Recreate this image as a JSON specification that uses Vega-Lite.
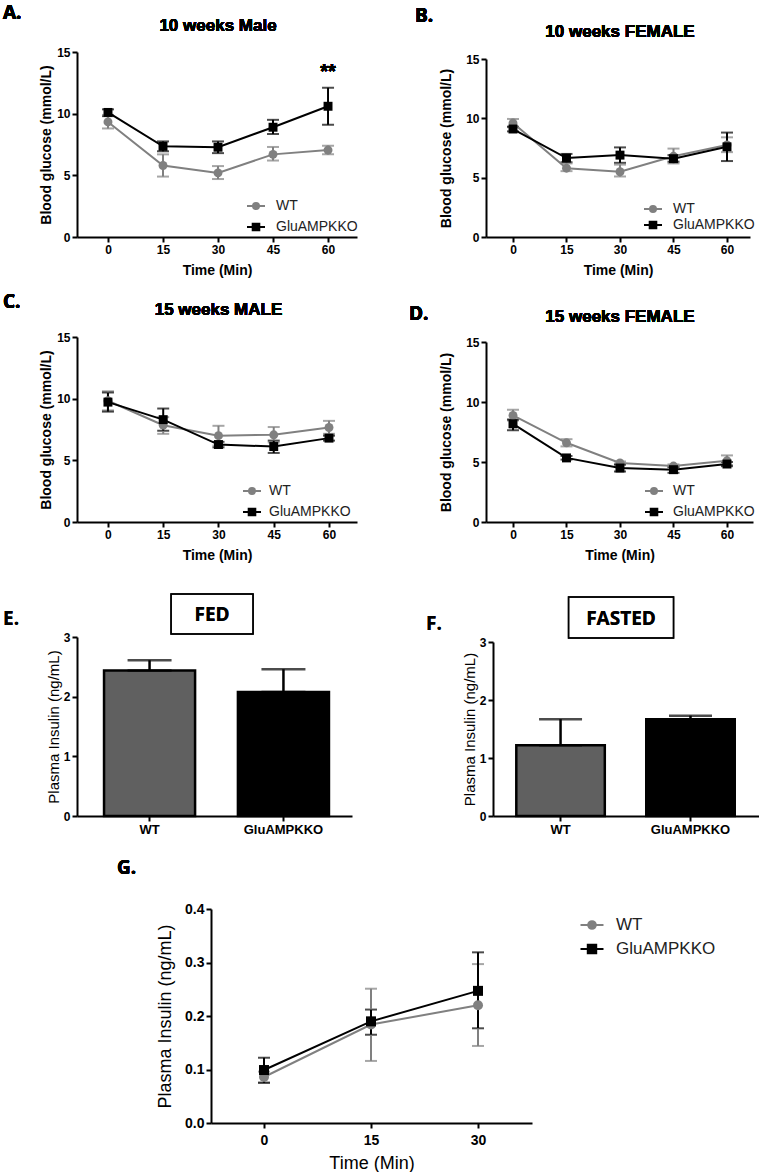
{
  "$schema": "https://vega.github.io/schema/vega-lite/v6.json",
  "background": "white",
  "padding": {"left": 3, "top": 4, "right": 0, "bottom": 0},
  "columns": 2,
  "align": "none",
  "bounds": "flush",
  "spacing": {"row": 90, "column": 129},
  "resolve": {
    "scale": {"color": "independent", "shape": "independent", "fill": "independent", "stroke": "independent", "x": "independent", "y": "independent"},
    "legend": {"color": "independent", "shape": "independent", "fill": "independent", "stroke": "independent"},
    "axis": {"x": "independent", "y": "independent"}
  },
  "datasets": {
    "A": [
      {"t": 0, "g": "WT", "m": 9.33, "lo": 8.8, "hi": 9.9},
      {"t": 15, "g": "WT", "m": 5.8, "lo": 4.9, "hi": 6.7},
      {"t": 30, "g": "WT", "m": 5.2, "lo": 4.7, "hi": 5.75},
      {"t": 45, "g": "WT", "m": 6.7, "lo": 6.2, "hi": 7.3},
      {"t": 60, "g": "WT", "m": 7.05, "lo": 6.7, "hi": 7.4},
      {"t": 0, "g": "GluAMPKKO", "m": 10.1, "lo": 9.8, "hi": 10.35},
      {"t": 15, "g": "GluAMPKKO", "m": 7.35, "lo": 6.95, "hi": 7.75},
      {"t": 30, "g": "GluAMPKKO", "m": 7.28, "lo": 6.8, "hi": 7.75},
      {"t": 45, "g": "GluAMPKKO", "m": 8.9, "lo": 8.35, "hi": 9.5},
      {"t": 60, "g": "GluAMPKKO", "m": 10.6, "lo": 9.1, "hi": 12.1}
    ],
    "B": [
      {"t": 0, "g": "WT", "m": 9.6, "lo": 9.25, "hi": 9.95},
      {"t": 15, "g": "WT", "m": 5.8, "lo": 5.55, "hi": 6.2},
      {"t": 30, "g": "WT", "m": 5.5, "lo": 5.1, "hi": 6.1},
      {"t": 45, "g": "WT", "m": 6.8, "lo": 6.2, "hi": 7.45},
      {"t": 60, "g": "WT", "m": 7.75, "lo": 7.15, "hi": 8.4},
      {"t": 0, "g": "GluAMPKKO", "m": 9.1, "lo": 8.9, "hi": 9.3},
      {"t": 15, "g": "GluAMPKKO", "m": 6.65, "lo": 6.3, "hi": 7.0},
      {"t": 30, "g": "GluAMPKKO", "m": 6.9, "lo": 6.25, "hi": 7.55},
      {"t": 45, "g": "GluAMPKKO", "m": 6.6, "lo": 6.35, "hi": 6.9},
      {"t": 60, "g": "GluAMPKKO", "m": 7.6, "lo": 6.4, "hi": 8.8}
    ],
    "C": [
      {"t": 0, "g": "WT", "m": 9.83, "lo": 9.05, "hi": 10.6},
      {"t": 15, "g": "WT", "m": 7.85, "lo": 7.15, "hi": 8.5},
      {"t": 30, "g": "WT", "m": 7.0, "lo": 6.2, "hi": 7.8},
      {"t": 45, "g": "WT", "m": 7.07, "lo": 6.45, "hi": 7.7},
      {"t": 60, "g": "WT", "m": 7.66, "lo": 7.15, "hi": 8.2},
      {"t": 0, "g": "GluAMPKKO", "m": 9.72, "lo": 8.95, "hi": 10.5},
      {"t": 15, "g": "GluAMPKKO", "m": 8.3, "lo": 7.4, "hi": 9.2},
      {"t": 30, "g": "GluAMPKKO", "m": 6.28, "lo": 6.05, "hi": 6.5},
      {"t": 45, "g": "GluAMPKKO", "m": 6.12, "lo": 5.6, "hi": 6.6},
      {"t": 60, "g": "GluAMPKKO", "m": 6.8, "lo": 6.6, "hi": 7.0}
    ],
    "D": [
      {"t": 0, "g": "WT", "m": 8.88, "lo": 8.45, "hi": 9.35},
      {"t": 15, "g": "WT", "m": 6.6, "lo": 6.3, "hi": 6.9},
      {"t": 30, "g": "WT", "m": 4.92, "lo": 4.8, "hi": 5.05},
      {"t": 45, "g": "WT", "m": 4.66, "lo": 4.55, "hi": 4.8},
      {"t": 60, "g": "WT", "m": 5.1, "lo": 4.75, "hi": 5.55},
      {"t": 0, "g": "GluAMPKKO", "m": 8.18, "lo": 7.65, "hi": 8.55},
      {"t": 15, "g": "GluAMPKKO", "m": 5.34, "lo": 5.2, "hi": 5.5},
      {"t": 30, "g": "GluAMPKKO", "m": 4.5, "lo": 4.2, "hi": 4.8},
      {"t": 45, "g": "GluAMPKKO", "m": 4.36, "lo": 4.1, "hi": 4.6},
      {"t": 60, "g": "GluAMPKKO", "m": 4.83, "lo": 4.65, "hi": 5.0}
    ],
    "E": [
      {"g": "WT", "m": 2.44, "hi": 2.61},
      {"g": "GluAMPKKO", "m": 2.08, "hi": 2.46}
    ],
    "F": [
      {"g": "WT", "m": 1.22, "hi": 1.67},
      {"g": "GluAMPKKO", "m": 1.67, "hi": 1.73}
    ],
    "G": [
      {"t": 0, "g": "WT", "m": 0.086, "lo": 0.076, "hi": 0.096},
      {"t": 15, "g": "WT", "m": 0.184, "lo": 0.116, "hi": 0.251},
      {"t": 30, "g": "WT", "m": 0.22, "lo": 0.144, "hi": 0.297},
      {"t": 0, "g": "GluAMPKKO", "m": 0.099, "lo": 0.075, "hi": 0.122},
      {"t": 15, "g": "GluAMPKKO", "m": 0.19, "lo": 0.165, "hi": 0.212},
      {"t": 30, "g": "GluAMPKKO", "m": 0.247, "lo": 0.177, "hi": 0.319}
    ]
  },
  "concat": [
    {
      "width": 280, "height": 185,
      "data": {"name": "A"},
      "layer": [
        {"mark": {"type": "errorbar", "ticks": {"size": 12}, "thickness": 2},
         "encoding": {
           "x": {"field": "t", "type": "quantitative", "title": "Time (Min)", "scale": {"domain": [-8.45, 67.9], "nice": false, "zero": false}, "axis": {"values": [0, 15, 30, 45, 60]}},
           "y": {"field": "lo", "type": "quantitative", "title": "Blood glucose (mmol/L)", "scale": {"domain": [0, 15], "nice": false}, "axis": {"values": [0, 5, 10, 15], "titlePadding": 3}},
           "y2": {"field": "hi"},
           "color": {"field": "g", "type": "nominal", "scale": {"domain": ["GluAMPKKO", "WT"], "range": ["#000000", "#808080"]}, "legend": null}
         }},
        {"mark": {"type": "line", "strokeWidth": 2},
         "encoding": {
           "x": {"field": "t", "type": "quantitative", "title": "Time (Min)"},
           "y": {"field": "m", "type": "quantitative", "title": "Blood glucose (mmol/L)"},
           "color": {"field": "g", "type": "nominal", "legend": null}
         }},
        {"mark": {"type": "point", "filled": true, "size": 80, "opacity": 1},
         "encoding": {
           "x": {"field": "t", "type": "quantitative", "title": "Time (Min)"},
           "y": {"field": "m", "type": "quantitative", "title": "Blood glucose (mmol/L)"},
           "shape": {"condition": {"test": "datum.g === 'WT'", "value": "circle"}, "value": "square"},
           "color": {"field": "g", "type": "nominal", "legend": null}
         }},
        {"mark": {"type": "point", "filled": true, "size": 80, "opacity": 0},
         "encoding": {
           "x": {"field": "t", "type": "quantitative", "title": "Time (Min)"},
           "y": {"field": "m", "type": "quantitative", "title": "Blood glucose (mmol/L)"},
           "fill": {"field": "g", "type": "nominal", "scale": {"domain": ["WT", "GluAMPKKO"], "range": ["#808080", "#000000"]}, "legend": {"title": null, "orient": "none", "legendX": 172, "legendY": 147, "padding": 0, "labelFontSize": 14, "labelOffset": 13, "rowPadding": 6, "symbolSize": 144, "symbolStrokeWidth": 2, "symbolOpacity": 1}},
           "stroke": {"field": "g", "type": "nominal", "scale": {"domain": ["WT", "GluAMPKKO"], "range": ["#808080", "#000000"]}, "legend": {"title": null, "orient": "none", "legendX": 172, "legendY": 147, "padding": 0, "labelFontSize": 14, "labelOffset": 13, "rowPadding": 6, "symbolSize": 144, "symbolStrokeWidth": 2, "symbolOpacity": 1}},
           "shape": {"field": "g", "type": "nominal", "scale": {"domain": ["WT", "GluAMPKKO"], "range": ["M-1.5,0H1.5M-0.5,0A0.5,0.5 0 1,1 0.5,0A0.5,0.5 0 1,1 -0.5,0Z", "M-1.5,0H1.5M-0.55,-0.55H0.55V0.55H-0.55Z"]}, "legend": {"title": null, "orient": "none", "legendX": 172, "legendY": 147, "padding": 0, "labelFontSize": 14, "labelOffset": 13, "rowPadding": 6, "symbolSize": 144, "symbolStrokeWidth": 2, "symbolOpacity": 1}}
         }},
        {"mark": {"type": "text", "text": "**", "fontSize": 20, "fontWeight": "bold", "baseline": "middle"},
         "encoding": {"x": {"datum": 60}, "y": {"datum": 13.4}}},
        {"mark": {"type": "text", "text": "10 weeks Male", "fontSize": 17, "fontWeight": "bold", "baseline": "alphabetic", "dy": -21},
         "encoding": {"x": {"datum": 30}, "y": {"datum": 15}}},
        {"mark": {"type": "text", "text": "A.", "font": "Open Sans", "fontSize": 19, "fontWeight": "bold", "align": "left", "baseline": "alphabetic", "dx": -74, "dy": -33},
         "encoding": {"x": {"datum": -8.45}, "y": {"datum": 15}}}
      ]
    },
    {
      "width": 264, "height": 185,
      "data": {"name": "B"},
      "layer": [
        {"mark": {"type": "errorbar", "ticks": {"size": 12}, "thickness": 2},
         "encoding": {
           "x": {"field": "t", "type": "quantitative", "title": "Time (Min)", "scale": {"domain": [-7.57, 66.45], "nice": false, "zero": false}, "axis": {"values": [0, 15, 30, 45, 60]}},
           "y": {"field": "lo", "type": "quantitative", "title": "Blood glucose (mmol/L)", "scale": {"domain": [0, 15], "nice": false, "range": [185, 7]}, "axis": {"values": [0, 5, 10, 15], "titlePadding": 12}},
           "y2": {"field": "hi"},
           "color": {"field": "g", "type": "nominal", "scale": {"domain": ["GluAMPKKO", "WT"], "range": ["#000000", "#808080"]}, "legend": null}
         }},
        {"mark": {"type": "line", "strokeWidth": 2},
         "encoding": {
           "x": {"field": "t", "type": "quantitative", "title": "Time (Min)"},
           "y": {"field": "m", "type": "quantitative", "title": "Blood glucose (mmol/L)"},
           "color": {"field": "g", "type": "nominal", "legend": null}
         }},
        {"mark": {"type": "point", "filled": true, "size": 80, "opacity": 1},
         "encoding": {
           "x": {"field": "t", "type": "quantitative", "title": "Time (Min)"},
           "y": {"field": "m", "type": "quantitative", "title": "Blood glucose (mmol/L)"},
           "shape": {"condition": {"test": "datum.g === 'WT'", "value": "circle"}, "value": "square"},
           "color": {"field": "g", "type": "nominal", "legend": null}
         }},
        {"mark": {"type": "point", "filled": true, "size": 80, "opacity": 0},
         "encoding": {
           "x": {"field": "t", "type": "quantitative", "title": "Time (Min)"},
           "y": {"field": "m", "type": "quantitative", "title": "Blood glucose (mmol/L)"},
           "fill": {"field": "g", "type": "nominal", "scale": {"domain": ["WT", "GluAMPKKO"], "range": ["#808080", "#000000"]}, "legend": {"title": null, "orient": "none", "legendX": 160, "legendY": 150, "padding": 0, "labelFontSize": 14, "labelOffset": 13, "rowPadding": 1, "symbolSize": 144, "symbolStrokeWidth": 2, "symbolOpacity": 1}},
           "stroke": {"field": "g", "type": "nominal", "scale": {"domain": ["WT", "GluAMPKKO"], "range": ["#808080", "#000000"]}, "legend": {"title": null, "orient": "none", "legendX": 160, "legendY": 150, "padding": 0, "labelFontSize": 14, "labelOffset": 13, "rowPadding": 1, "symbolSize": 144, "symbolStrokeWidth": 2, "symbolOpacity": 1}},
           "shape": {"field": "g", "type": "nominal", "scale": {"domain": ["WT", "GluAMPKKO"], "range": ["M-1.5,0H1.5M-0.5,0A0.5,0.5 0 1,1 0.5,0A0.5,0.5 0 1,1 -0.5,0Z", "M-1.5,0H1.5M-0.55,-0.55H0.55V0.55H-0.55Z"]}, "legend": {"title": null, "orient": "none", "legendX": 160, "legendY": 150, "padding": 0, "labelFontSize": 14, "labelOffset": 13, "rowPadding": 1, "symbolSize": 144, "symbolStrokeWidth": 2, "symbolOpacity": 1}}
         }},
        {"mark": {"type": "text", "text": "10 weeks FEMALE", "fontSize": 17, "fontWeight": "bold", "baseline": "alphabetic", "dy": -22},
         "encoding": {"x": {"datum": 30}, "y": {"datum": 15}}},
        {"mark": {"type": "text", "text": "B.", "font": "Open Sans", "fontSize": 19, "fontWeight": "bold", "align": "left", "baseline": "alphabetic", "dx": -71, "dy": -37},
         "encoding": {"x": {"datum": -7.57}, "y": {"datum": 15}}}
      ]
    },
    {
      "width": 280, "height": 195,
      "data": {"name": "C"},
      "layer": [
        {"mark": {"type": "errorbar", "ticks": {"size": 12}, "thickness": 2},
         "encoding": {
           "x": {"field": "t", "type": "quantitative", "title": "Time (Min)", "scale": {"domain": [-8.4, 67.6], "nice": false, "zero": false}, "axis": {"values": [0, 15, 30, 45, 60]}},
           "y": {"field": "lo", "type": "quantitative", "title": "Blood glucose (mmol/L)", "scale": {"domain": [0, 15], "nice": false, "range": [195, 10]}, "axis": {"values": [0, 5, 10, 15], "titlePadding": 3}},
           "y2": {"field": "hi"},
           "color": {"field": "g", "type": "nominal", "scale": {"domain": ["GluAMPKKO", "WT"], "range": ["#000000", "#808080"]}, "legend": null}
         }},
        {"mark": {"type": "line", "strokeWidth": 2},
         "encoding": {
           "x": {"field": "t", "type": "quantitative", "title": "Time (Min)"},
           "y": {"field": "m", "type": "quantitative", "title": "Blood glucose (mmol/L)"},
           "color": {"field": "g", "type": "nominal", "legend": null}
         }},
        {"mark": {"type": "point", "filled": true, "size": 80, "opacity": 1},
         "encoding": {
           "x": {"field": "t", "type": "quantitative", "title": "Time (Min)"},
           "y": {"field": "m", "type": "quantitative", "title": "Blood glucose (mmol/L)"},
           "shape": {"condition": {"test": "datum.g === 'WT'", "value": "circle"}, "value": "square"},
           "color": {"field": "g", "type": "nominal", "legend": null}
         }},
        {"mark": {"type": "point", "filled": true, "size": 80, "opacity": 0},
         "encoding": {
           "x": {"field": "t", "type": "quantitative", "title": "Time (Min)"},
           "y": {"field": "m", "type": "quantitative", "title": "Blood glucose (mmol/L)"},
           "fill": {"field": "g", "type": "nominal", "scale": {"domain": ["WT", "GluAMPKKO"], "range": ["#808080", "#000000"]}, "legend": {"title": null, "orient": "none", "legendX": 168, "legendY": 157, "padding": 0, "labelFontSize": 14, "labelOffset": 10, "rowPadding": 6, "symbolSize": 144, "symbolStrokeWidth": 2, "symbolOpacity": 1}},
           "stroke": {"field": "g", "type": "nominal", "scale": {"domain": ["WT", "GluAMPKKO"], "range": ["#808080", "#000000"]}, "legend": {"title": null, "orient": "none", "legendX": 168, "legendY": 157, "padding": 0, "labelFontSize": 14, "labelOffset": 10, "rowPadding": 6, "symbolSize": 144, "symbolStrokeWidth": 2, "symbolOpacity": 1}},
           "shape": {"field": "g", "type": "nominal", "scale": {"domain": ["WT", "GluAMPKKO"], "range": ["M-1.5,0H1.5M-0.5,0A0.5,0.5 0 1,1 0.5,0A0.5,0.5 0 1,1 -0.5,0Z", "M-1.5,0H1.5M-0.55,-0.55H0.55V0.55H-0.55Z"]}, "legend": {"title": null, "orient": "none", "legendX": 168, "legendY": 157, "padding": 0, "labelFontSize": 14, "labelOffset": 10, "rowPadding": 6, "symbolSize": 144, "symbolStrokeWidth": 2, "symbolOpacity": 1}}
         }},
        {"mark": {"type": "text", "text": "15 weeks MALE", "fontSize": 17, "fontWeight": "bold", "baseline": "alphabetic", "dy": -22},
         "encoding": {"x": {"datum": 30}, "y": {"datum": 15}}},
        {"mark": {"type": "text", "text": "C.", "font": "Open Sans", "fontSize": 19, "fontWeight": "bold", "align": "left", "baseline": "alphabetic", "dx": -74, "dy": -29},
         "encoding": {"x": {"datum": -8.4}, "y": {"datum": 15}}}
      ]
    },
    {
      "width": 267, "height": 195,
      "data": {"name": "D"},
      "layer": [
        {"mark": {"type": "errorbar", "ticks": {"size": 12}, "thickness": 2},
         "encoding": {
           "x": {"field": "t", "type": "quantitative", "title": "Time (Min)", "scale": {"domain": [-7.57, 67.3], "nice": false, "zero": false}, "axis": {"values": [0, 15, 30, 45, 60]}},
           "y": {"field": "lo", "type": "quantitative", "title": "Blood glucose (mmol/L)", "scale": {"domain": [0, 15], "nice": false, "range": [195, 15]}, "axis": {"values": [0, 5, 10, 15], "titlePadding": 12}},
           "y2": {"field": "hi"},
           "color": {"field": "g", "type": "nominal", "scale": {"domain": ["GluAMPKKO", "WT"], "range": ["#000000", "#808080"]}, "legend": null}
         }},
        {"mark": {"type": "line", "strokeWidth": 2},
         "encoding": {
           "x": {"field": "t", "type": "quantitative", "title": "Time (Min)"},
           "y": {"field": "m", "type": "quantitative", "title": "Blood glucose (mmol/L)"},
           "color": {"field": "g", "type": "nominal", "legend": null}
         }},
        {"mark": {"type": "point", "filled": true, "size": 80, "opacity": 1},
         "encoding": {
           "x": {"field": "t", "type": "quantitative", "title": "Time (Min)"},
           "y": {"field": "m", "type": "quantitative", "title": "Blood glucose (mmol/L)"},
           "shape": {"condition": {"test": "datum.g === 'WT'", "value": "circle"}, "value": "square"},
           "color": {"field": "g", "type": "nominal", "legend": null}
         }},
        {"mark": {"type": "point", "filled": true, "size": 80, "opacity": 0},
         "encoding": {
           "x": {"field": "t", "type": "quantitative", "title": "Time (Min)"},
           "y": {"field": "m", "type": "quantitative", "title": "Blood glucose (mmol/L)"},
           "fill": {"field": "g", "type": "nominal", "scale": {"domain": ["WT", "GluAMPKKO"], "range": ["#808080", "#000000"]}, "legend": {"title": null, "orient": "none", "legendX": 161, "legendY": 157, "padding": 0, "labelFontSize": 14, "labelOffset": 12, "rowPadding": 6, "symbolSize": 144, "symbolStrokeWidth": 2, "symbolOpacity": 1}},
           "stroke": {"field": "g", "type": "nominal", "scale": {"domain": ["WT", "GluAMPKKO"], "range": ["#808080", "#000000"]}, "legend": {"title": null, "orient": "none", "legendX": 161, "legendY": 157, "padding": 0, "labelFontSize": 14, "labelOffset": 12, "rowPadding": 6, "symbolSize": 144, "symbolStrokeWidth": 2, "symbolOpacity": 1}},
           "shape": {"field": "g", "type": "nominal", "scale": {"domain": ["WT", "GluAMPKKO"], "range": ["M-1.5,0H1.5M-0.5,0A0.5,0.5 0 1,1 0.5,0A0.5,0.5 0 1,1 -0.5,0Z", "M-1.5,0H1.5M-0.55,-0.55H0.55V0.55H-0.55Z"]}, "legend": {"title": null, "orient": "none", "legendX": 161, "legendY": 157, "padding": 0, "labelFontSize": 14, "labelOffset": 12, "rowPadding": 6, "symbolSize": 144, "symbolStrokeWidth": 2, "symbolOpacity": 1}}
         }},
        {"mark": {"type": "text", "text": "15 weeks FEMALE", "fontSize": 17, "fontWeight": "bold", "baseline": "alphabetic", "dy": -20},
         "encoding": {"x": {"datum": 30}, "y": {"datum": 15}}},
        {"mark": {"type": "text", "text": "D.", "font": "Open Sans", "fontSize": 19, "fontWeight": "bold", "align": "left", "baseline": "alphabetic", "dx": -77, "dy": -22},
         "encoding": {"x": {"datum": -7.57}, "y": {"datum": 15}}}
      ]
    },
    {
      "width": 280, "height": 204,
      "data": {"name": "E"},
      "layer": [
        {"mark": {"type": "bar", "stroke": "black", "strokeWidth": 2.5},
         "encoding": {
           "x": {"field": "g", "type": "nominal", "title": null, "sort": null, "scale": {"type": "band", "domain": ["WT", "GluAMPKKO"], "range": [0, 275], "paddingInner": 0.32, "paddingOuter": 0.187, "align": 0.54}, "axis": {"labelAngle": 0, "labelFontSize": 13}},
           "y": {"field": "m", "type": "quantitative", "title": "Plasma Insulin (ng/mL)", "scale": {"domain": [0, 3], "nice": false, "range": [204, 25]}, "axis": {"values": [0, 1, 2, 3], "format": "d", "titleFontWeight": "normal", "titleFontSize": 15, "titlePadding": 2}},
           "color": {"field": "g", "type": "nominal", "scale": {"domain": ["WT", "GluAMPKKO"], "range": ["#606060", "#000000"]}, "legend": null}
         }},
        {"mark": {"type": "errorbar", "color": "black", "thickness": 2.5, "ticks": {"size": 44}},
         "encoding": {
           "x": {"field": "g", "type": "nominal", "title": null},
           "y": {"field": "m", "type": "quantitative", "title": "Plasma Insulin (ng/mL)"},
           "y2": {"field": "hi"}
         }},
        {"mark": {"type": "point", "shape": "M-1,-0.49H1V0.49H-1Z", "size": 6724, "filled": false, "stroke": "black", "strokeWidth": 1.5, "opacity": 1, "xOffset": 62.5, "yOffset": -23},
         "encoding": {"x": {"datum": "WT"}, "y": {"datum": 3}}},
        {"mark": {"type": "text", "text": "FED", "font": "Open Sans", "fontSize": 19, "fontWeight": "bold", "baseline": "middle", "dx": 62.5, "dy": -22},
         "encoding": {"x": {"datum": "WT"}, "y": {"datum": 3}}},
        {"mark": {"type": "text", "text": "E.", "font": "Open Sans", "fontSize": 19, "fontWeight": "bold", "align": "left", "baseline": "alphabetic", "dx": -146.5, "dy": -12},
         "encoding": {"x": {"datum": "WT"}, "y": {"datum": 3}}}
      ]
    },
    {
      "width": 273, "height": 204,
      "data": {"name": "F"},
      "layer": [
        {"mark": {"type": "bar", "stroke": "black", "strokeWidth": 2.5},
         "encoding": {
           "x": {"field": "g", "type": "nominal", "title": null, "sort": null, "scale": {"type": "band", "domain": ["WT", "GluAMPKKO"], "range": [7, 273], "paddingInner": 0.319, "paddingOuter": 0.183, "align": 0.49}, "axis": {"labelAngle": 0, "labelFontSize": 13}},
           "y": {"field": "m", "type": "quantitative", "title": "Plasma Insulin (ng/mL)", "scale": {"domain": [0, 3], "nice": false, "range": [204, 30]}, "axis": {"values": [0, 1, 2, 3], "format": "d", "offset": -7, "titleFontWeight": "normal", "titleFontSize": 15, "titlePadding": 2}},
           "color": {"field": "g", "type": "nominal", "scale": {"domain": ["WT", "GluAMPKKO"], "range": ["#606060", "#000000"]}, "legend": null}
         }},
        {"mark": {"type": "errorbar", "color": "black", "thickness": 2.5, "ticks": {"size": 43}},
         "encoding": {
           "x": {"field": "g", "type": "nominal", "title": null},
           "y": {"field": "m", "type": "quantitative", "title": "Plasma Insulin (ng/mL)"},
           "y2": {"field": "hi"}
         }},
        {"mark": {"type": "point", "shape": "M-1,-0.39H1V0.39H-1Z", "size": 11025, "filled": false, "stroke": "black", "strokeWidth": 1.5, "opacity": 1, "xOffset": 60.5, "yOffset": -24.5},
         "encoding": {"x": {"datum": "WT"}, "y": {"datum": 3}}},
        {"mark": {"type": "text", "text": "FASTED", "font": "Open Sans", "fontSize": 19, "fontWeight": "bold", "baseline": "middle", "dx": 60.5, "dy": -23.5},
         "encoding": {"x": {"datum": "WT"}, "y": {"datum": 3}}},
        {"mark": {"type": "text", "text": "F.", "font": "Open Sans", "fontSize": 19, "fontWeight": "bold", "align": "left", "baseline": "alphabetic", "dx": -134.5, "dy": -12},
         "encoding": {"x": {"datum": "WT"}, "y": {"datum": 3}}}
      ]
    },
    {
      "width": 280, "height": 217,
      "data": {"name": "G"},
      "layer": [
        {"mark": {"type": "errorbar", "ticks": {"size": 12}, "thickness": 2},
         "encoding": {
           "x": {"field": "t", "type": "quantitative", "title": "Time (Min)", "scale": {"domain": [-7.43, 37.57], "range": [134, 455], "nice": false, "zero": false}, "axis": {"values": [0, 15, 30], "labelFontSize": 14, "labelPadding": 5, "titleFontSize": 18, "titleFontWeight": "normal", "titlePadding": 7}},
           "y": {"field": "lo", "type": "quantitative", "title": "Plasma Insulin (ng/mL)", "scale": {"domain": [0, 0.4], "nice": false, "range": [217, 3]}, "axis": {"values": [0, 0.1, 0.2, 0.3, 0.4], "format": ".1f", "offset": -134, "labelFontSize": 14, "titleFontSize": 18, "titleFontWeight": "normal", "titlePadding": 10}},
           "y2": {"field": "hi"},
           "color": {"field": "g", "type": "nominal", "scale": {"domain": ["GluAMPKKO", "WT"], "range": ["#000000", "#808080"]}, "legend": null}
         }},
        {"mark": {"type": "line", "strokeWidth": 2},
         "encoding": {
           "x": {"field": "t", "type": "quantitative", "title": "Time (Min)"},
           "y": {"field": "m", "type": "quantitative", "title": "Plasma Insulin (ng/mL)"},
           "color": {"field": "g", "type": "nominal", "legend": null}
         }},
        {"mark": {"type": "point", "filled": true, "size": 100, "opacity": 1},
         "encoding": {
           "x": {"field": "t", "type": "quantitative", "title": "Time (Min)"},
           "y": {"field": "m", "type": "quantitative", "title": "Plasma Insulin (ng/mL)"},
           "shape": {"condition": {"test": "datum.g === 'WT'", "value": "circle"}, "value": "square"},
           "color": {"field": "g", "type": "nominal", "legend": null}
         }},
        {"mark": {"type": "point", "filled": true, "size": 100, "opacity": 0},
         "encoding": {
           "x": {"field": "t", "type": "quantitative", "title": "Time (Min)"},
           "y": {"field": "m", "type": "quantitative", "title": "Plasma Insulin (ng/mL)"},
           "fill": {"field": "g", "type": "nominal", "scale": {"domain": ["WT", "GluAMPKKO"], "range": ["#808080", "#000000"]}, "legend": {"title": null, "orient": "none", "legendX": 506, "legendY": 10, "padding": 0, "labelFontSize": 17, "labelOffset": 15, "rowPadding": 7, "symbolSize": 235, "symbolStrokeWidth": 2, "symbolOpacity": 1}},
           "stroke": {"field": "g", "type": "nominal", "scale": {"domain": ["WT", "GluAMPKKO"], "range": ["#808080", "#000000"]}, "legend": {"title": null, "orient": "none", "legendX": 506, "legendY": 10, "padding": 0, "labelFontSize": 17, "labelOffset": 15, "rowPadding": 7, "symbolSize": 235, "symbolStrokeWidth": 2, "symbolOpacity": 1}},
           "shape": {"field": "g", "type": "nominal", "scale": {"domain": ["WT", "GluAMPKKO"], "range": ["M-1.5,0H1.5M-0.5,0A0.5,0.5 0 1,1 0.5,0A0.5,0.5 0 1,1 -0.5,0Z", "M-1.5,0H1.5M-0.55,-0.55H0.55V0.55H-0.55Z"]}, "legend": {"title": null, "orient": "none", "legendX": 506, "legendY": 10, "padding": 0, "labelFontSize": 17, "labelOffset": 15, "rowPadding": 7, "symbolSize": 235, "symbolStrokeWidth": 2, "symbolOpacity": 1}}
         }},
        {"mark": {"type": "text", "text": "G.", "font": "Open Sans", "fontSize": 19, "fontWeight": "bold", "align": "left", "baseline": "alphabetic", "dx": -94, "dy": -35},
         "encoding": {"x": {"datum": -7.43}, "y": {"datum": 0.4}}}
      ]
    }
  ],
  "config": {
    "view": {"stroke": null},
    "axis": {
      "domainColor": "black", "domainWidth": 2, "tickColor": "black", "tickWidth": 2, "tickSize": 5,
      "labelFont": "Liberation Sans", "labelFontWeight": "bold", "labelFontSize": 12, "labelColor": "black", "labelPadding": 2,
      "titleFont": "Liberation Sans", "titleFontWeight": "bold", "titleFontSize": 14, "titleColor": "black",
      "grid": false
    },
    "axisX": {"titlePadding": 8},
    "legend": {"labelFont": "Liberation Sans", "labelColor": "#222222"},
    "text": {"font": "Liberation Sans", "color": "black"}
  }
}
